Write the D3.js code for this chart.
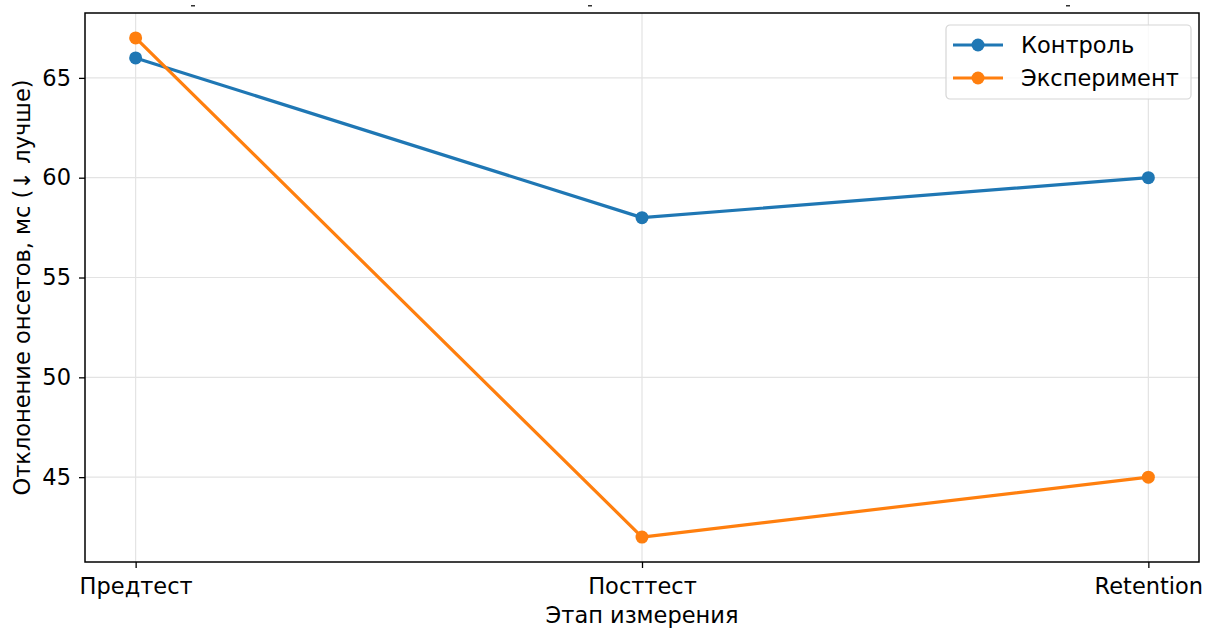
<!DOCTYPE html>
<html>
<head>
<meta charset="utf-8">
<script src="https://cdn.jsdelivr.net/npm/d3@7"></script>
<style>
  body { margin: 0; background: #fff; }
  svg text { font-family: "DejaVu Sans", sans-serif; fill: #000; }
</style>
</head>
<body>
<div id="graphic"></div>
<script>
// data
const stages = ['Предтест', 'Посттест', 'Retention'];
const control = [66, 58, 60];
const experiment = [67, 42, 45];
const seriesNames = ['Контроль', 'Эксперимент'];
const colours = ['#1f77b4', '#ff7f0e'];
const yTicks = [45, 50, 55, 60, 65];

const W = 1209, H = 628;
const margin = { top: 13, right: 10, bottom: 66, left: 85 };
const width = W - margin.left - margin.right;
const height = H - margin.top - margin.bottom;
const fs = '22.5px';

const svg = d3.select('#graphic').append('svg')
  .attr('width', W).attr('height', H);

// stray marks at the very top (clipped title remnants)
[193, 590, 1068].forEach(function (xx) {
  svg.append('rect').attr('x', xx - 2).attr('y', 5).attr('width', 4).attr('height', 1.5).attr('fill', '#333');
});

const g = svg.append('g').attr('transform', `translate(${margin.left},${margin.top})`);

const x = d3.scaleLinear().domain([-0.1, 2.1]).range([0, width]);
const y = d3.scaleLinear().domain([40.75, 68.25]).range([height, 0]);

// grid
g.append('g').selectAll('line').data(yTicks).join('line')
  .attr('x1', 0).attr('x2', width)
  .attr('y1', d => y(d)).attr('y2', d => y(d))
  .attr('stroke', '#e3e3e3').attr('stroke-width', 1.2);
g.append('g').selectAll('line').data(stages).join('line')
  .attr('x1', (d, i) => x(i)).attr('x2', (d, i) => x(i))
  .attr('y1', 0).attr('y2', height)
  .attr('stroke', '#e3e3e3').attr('stroke-width', 1.2);

// axes
const xAxis = g.append('g').attr('transform', `translate(0,${height})`)
  .call(d3.axisBottom(x).tickValues([0, 1, 2]).tickFormat(i => stages[i]).tickSize(6).tickPadding(10));
const yAxis = g.append('g')
  .call(d3.axisLeft(y).tickValues(yTicks).tickSize(6).tickPadding(8));
[xAxis, yAxis].forEach(a => {
  a.select('.domain').remove();
  a.selectAll('.tick line').attr('stroke', '#000').attr('stroke-width', 1.3);
  a.selectAll('.tick text').style('font-size', fs).attr('fill', '#000');
});

// frame
g.append('rect').attr('width', width).attr('height', height)
  .attr('fill', 'none').attr('stroke', '#000').attr('stroke-width', 1.5);

// lines
const line = d3.line().x((d, i) => x(i)).y(d => y(d));
[control, experiment].forEach(function (vals, k) {
  g.append('path').datum(vals)
    .attr('fill', 'none').attr('stroke', colours[k]).attr('stroke-width', 3.2)
    .attr('stroke-linejoin', 'round').attr('stroke-linecap', 'round')
    .attr('d', line);
  g.selectAll(null).data(vals).join('circle')
    .attr('cx', (d, i) => x(i)).attr('cy', d => y(d)).attr('r', 6.5)
    .attr('fill', colours[k]);
});

// axis labels
svg.append('text').attr('x', margin.left + width / 2).attr('y', 623)
  .attr('text-anchor', 'middle').style('font-size', fs).text('Этап измерения');
svg.append('text')
  .attr('transform', `translate(30,${margin.top + height / 2}) rotate(-90)`)
  .attr('text-anchor', 'middle').style('font-size', fs).text('Отклонение онсетов, мс (↓ лучше)');

// legend
const lg = svg.append('g').attr('transform', 'translate(946,25)');
lg.append('rect').attr('width', 245).attr('height', 74).attr('rx', 4)
  .attr('fill', '#fff').attr('fill-opacity', 0.8).attr('stroke', '#d6d6d6').attr('stroke-width', 1.2);
seriesNames.forEach(function (name, k) {
  const yy = 20 + k * 33;
  lg.append('line').attr('x1', 7).attr('x2', 57).attr('y1', yy).attr('y2', yy)
    .attr('stroke', colours[k]).attr('stroke-width', 3.2);
  lg.append('circle').attr('cx', 32).attr('cy', yy).attr('r', 6.5).attr('fill', colours[k]);
  lg.append('text').attr('x', 75).attr('y', yy).attr('dy', '0.35em')
    .style('font-size', fs).text(name);
});
</script>
</body>
</html>
